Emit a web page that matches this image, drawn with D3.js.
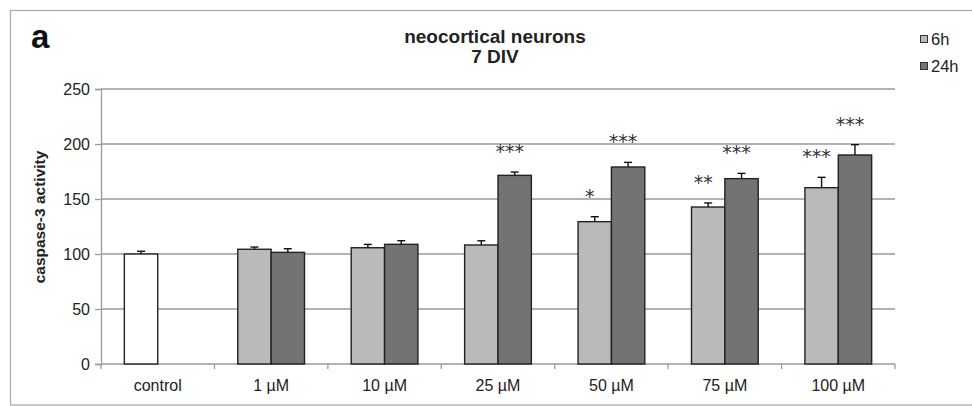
<!DOCTYPE html>
<html>
<head>
<meta charset="utf-8">
<script src="https://cdn.jsdelivr.net/npm/d3@7"></script>
<style>
    body { margin: 0; background: #fff; }
    svg { display: block; font-family: "Liberation Sans", Arial, sans-serif; }
</style>
</head>
<body>
<div class="chart"></div>
<script>
// Chart data
var categories = ["control", "1 µM", "10 µM", "25 µM", "50 µM", "75 µM", "100 µM"];
var seriesNames = ["6h", "24h"];
var values6h = [100, 104.3, 105.7, 108.2, 129.4, 142.7, 160.3];
var errors6h = [2.5, 2, 3, 3.8, 4.5, 3.7, 9.4];
var values24h = [null, 101.5, 108.8, 171.5, 179.1, 168.5, 190];
var errors24h = [null, 3.3, 3.3, 3, 4.2, 4.8, 9.4];
var stars6h = ["", "", "", "", "*", "**", "***"];
var stars24h = ["", "", "", "***", "***", "***", "***"];
var yTicks = [0, 50, 100, 150, 200, 250];

var svgWidth = 972;
var svgHeight = 406;
var margin = { top: 89, right: 77, bottom: 42, left: 101 };
var width = svgWidth - margin.left - margin.right;
var height = svgHeight - margin.top - margin.bottom;

var colors = { "6h": "#bababa", "24h": "#737373" };

var svg = d3.select(".chart")
    .append("svg")
    .attr("width", svgWidth)
    .attr("height", svgHeight);

// outer frame
svg.append("rect")
    .attr("x", 10.5)
    .attr("y", 10.5)
    .attr("width", 990)
    .attr("height", 394.5)
    .attr("fill", "none")
    .attr("stroke", "#a8a8a8")
    .attr("stroke-width", 1.2);

var chartGroup = svg.append("g")
    .attr("transform", `translate(${margin.left}, ${margin.top})`);

var xScale = d3.scaleBand()
    .domain(categories)
    .range([0, width]);

var xSub = d3.scaleBand()
    .domain(seriesNames)
    .range([0, xScale.bandwidth()])
    .paddingOuter(0.7);

var yScale = d3.scaleLinear()
    .domain([0, 250])
    .range([height, 0]);

// gridlines
chartGroup.append("g")
    .selectAll("line")
    .data(yTicks.filter(d => d > 0))
    .enter()
    .append("line")
    .attr("x1", 0)
    .attr("x2", width)
    .attr("y1", d => yScale(d))
    .attr("y2", d => yScale(d))
    .attr("stroke", "#9a9a9a")
    .attr("stroke-width", 1.3);

// y axis
var leftAxis = d3.axisLeft(yScale).tickValues(yTicks).tickSize(6).tickPadding(5);
var yAxis = chartGroup.append("g").call(leftAxis);
yAxis.select(".domain").attr("stroke", "#9a9a9a").attr("stroke-width", 1.3);
yAxis.selectAll(".tick line").attr("stroke", "#9a9a9a").attr("stroke-width", 1.3);
yAxis.selectAll(".tick text")
    .attr("font-size", 16)
    .attr("font-family", "Liberation Sans, Arial, sans-serif")
    .attr("fill", "#222");

// x axis with ticks on category boundaries
var xAxis = chartGroup.append("g")
    .attr("transform", `translate(0, ${height})`);
xAxis.append("line")
    .attr("x1", 0)
    .attr("x2", width)
    .attr("stroke", "#9a9a9a")
    .attr("stroke-width", 1.3);
var boundaries = categories.map(d => xScale(d)).concat([width]);
xAxis.selectAll(".xtick")
    .data(boundaries)
    .enter()
    .append("line")
    .attr("class", "xtick")
    .attr("x1", d => d)
    .attr("x2", d => d)
    .attr("y1", 0)
    .attr("y2", 5)
    .attr("stroke", "#9a9a9a")
    .attr("stroke-width", 1.3);
xAxis.selectAll(".xlabel")
    .data(categories)
    .enter()
    .append("text")
    .attr("class", "xlabel")
    .attr("x", d => xScale(d) + xScale.bandwidth() / 2)
    .attr("y", 27)
    .attr("text-anchor", "middle")
    .attr("font-size", 16)
    .attr("fill", "#222")
    .text(d => d);

// build bar rows
var rows = [];
categories.forEach(function(cat, i) {
    if (values6h[i] !== null) {
        rows.push({ cat: cat, series: "6h", value: values6h[i], err: errors6h[i], stars: stars6h[i], control: i === 0 });
    }
    if (values24h[i] !== null) {
        rows.push({ cat: cat, series: "24h", value: values24h[i], err: errors24h[i], stars: stars24h[i], control: false });
    }
});

var barX = d => xScale(d.cat) + xSub(d.series);

chartGroup.selectAll(".bar")
    .data(rows)
    .enter()
    .append("rect")
    .attr("class", "bar")
    .attr("x", d => barX(d))
    .attr("y", d => yScale(d.value))
    .attr("width", xSub.bandwidth())
    .attr("height", d => height - yScale(d.value))
    .attr("fill", d => d.control ? "#ffffff" : colors[d.series])
    .attr("stroke", "#222")
    .attr("stroke-width", 1.4);

// error bars (plus only)
var errGroup = chartGroup.append("g").attr("stroke", "#111").attr("stroke-width", 1.4);
rows.forEach(function(d) {
    var cx = barX(d) + xSub.bandwidth() / 2;
    errGroup.append("line")
        .attr("x1", cx).attr("x2", cx)
        .attr("y1", yScale(d.value))
        .attr("y2", yScale(d.value + d.err));
    errGroup.append("line")
        .attr("x1", cx - 4).attr("x2", cx + 4)
        .attr("y1", yScale(d.value + d.err))
        .attr("y2", yScale(d.value + d.err));
});

// significance stars
chartGroup.selectAll(".stars")
    .data(rows.filter(d => d.stars))
    .enter()
    .append("text")
    .attr("class", "stars")
    .attr("x", d => barX(d) + xSub.bandwidth() / 2 - 5)
    .attr("y", d => yScale(d.value + d.err) - 14)
    .attr("text-anchor", "middle")
    .attr("font-family", "DejaVu Sans, sans-serif")
    .attr("font-size", 19)
    .attr("fill", "#333")
    .text(d => d.stars);

// y axis label
svg.append("text")
    .attr("transform", "translate(45, 217) rotate(-90)")
    .attr("text-anchor", "middle")
    .attr("font-size", 15.5)
    .attr("font-weight", "bold")
    .attr("fill", "#222")
    .text("caspase-3 activity");

// title
svg.append("text")
    .attr("x", 495)
    .attr("y", 43)
    .attr("text-anchor", "middle")
    .attr("font-size", 19)
    .attr("font-weight", "bold")
    .attr("fill", "#222")
    .text("neocortical neurons");
svg.append("text")
    .attr("x", 495)
    .attr("y", 63)
    .attr("text-anchor", "middle")
    .attr("font-size", 19)
    .attr("font-weight", "bold")
    .attr("fill", "#222")
    .text("7 DIV");

// panel letter
svg.append("text")
    .attr("x", 31)
    .attr("y", 48)
    .attr("font-size", 33)
    .attr("font-weight", "bold")
    .attr("fill", "#111")
    .text("a");

// legend
var legend = svg.append("g").attr("transform", "translate(920, 0)");
seriesNames.forEach(function(name, i) {
    var yPos = 35 + i * 27;
    legend.append("rect")
        .attr("x", 0.5)
        .attr("y", yPos + 0.5)
        .attr("width", 7)
        .attr("height", 7)
        .attr("fill", colors[name])
        .attr("stroke", "#333")
        .attr("stroke-width", 1);
    legend.append("text")
        .attr("x", 11)
        .attr("y", yPos + 10)
        .attr("font-size", 16.5)
        .attr("fill", "#222")
        .text(name);
});
</script>
</body>
</html>
